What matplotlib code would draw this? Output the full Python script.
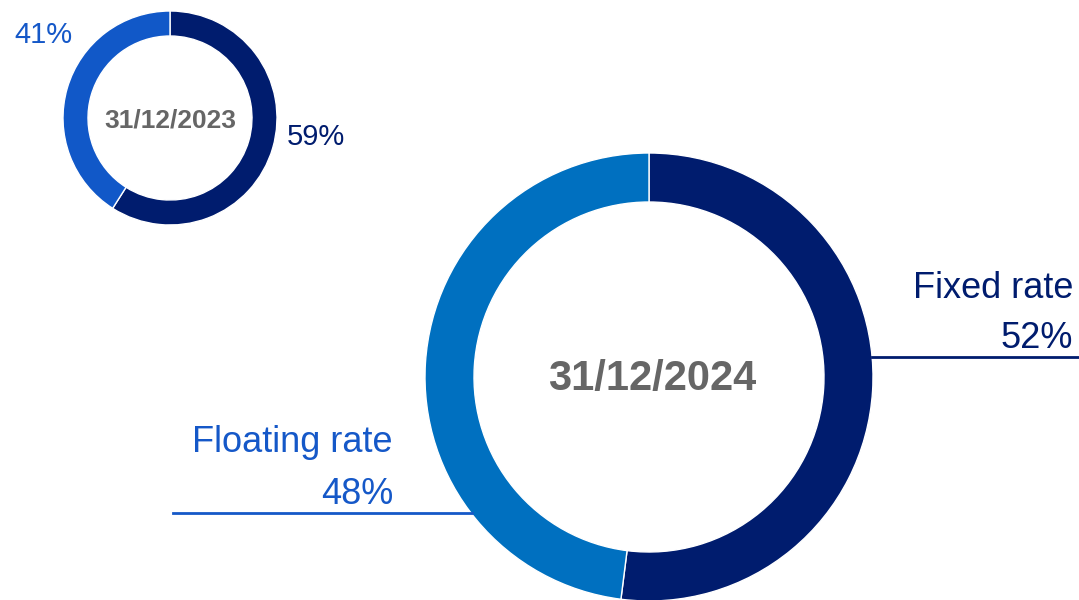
import matplotlib.pyplot as plt

plt.rcParams['font.family'] = ['Liberation Sans', 'DejaVu Sans']

categories = ['Fixed rate', 'Floating rate']
dates = ['31/12/2023', '31/12/2024']
share_2023 = [59, 41]
share_2024 = [52, 48]

navy = '#001C6E'
blue_2023 = '#1158C8'
blue_2024 = '#0070C0'
label_blue = '#1558C8'
grey = '#666666'

W, H = 1079, 600


def flip(y):
    # image pixel rows -> data y
    return H - y


fig = plt.figure(figsize=(W / 100, H / 100), dpi=100)
ax = fig.add_axes([0, 0, 1, 1])

# small donut, 2023
ax.pie(share_2023, colors=[navy, blue_2023], startangle=90, counterclock=False,
       center=(170, flip(118)), radius=107,
       wedgeprops=dict(width=25, edgecolor='white', linewidth=1))
ax.text(170, flip(121), dates[0], ha='center', va='center', fontsize=19,
        fontweight='bold', color=grey)
ax.text(287, flip(137), f'{share_2023[0]}%', ha='left', va='center',
        fontsize=21, color=navy)
ax.text(14, flip(35), f'{share_2023[1]}%', ha='left', va='center',
        fontsize=21, color=label_blue)

# large donut, 2024
ax.pie(share_2024, colors=[navy, blue_2024], startangle=90, counterclock=False,
       center=(649, flip(377)), radius=224,
       wedgeprops=dict(width=49, edgecolor='white', linewidth=1))
ax.text(652, flip(379), dates[1], ha='center', va='center', fontsize=30,
        fontweight='bold', color=grey)

# fixed rate callout
ax.plot([872, W], [flip(357), flip(357)], color=navy, lw=2)
ax.text(1073, flip(298), categories[0], ha='right', va='baseline',
        fontsize=26, color=navy)
ax.text(1073, flip(348), f'{share_2024[0]}%', ha='right', va='baseline',
        fontsize=26, color=navy)

# floating rate callout
ax.plot([173, 472], [flip(513), flip(513)], color=label_blue, lw=2)
ax.text(393, flip(452), categories[1], ha='right', va='baseline',
        fontsize=26, color=label_blue)
ax.text(393, flip(504), f'{share_2024[1]}%', ha='right', va='baseline',
        fontsize=26, color=label_blue)

ax.set_xlim(0, W)
ax.set_ylim(0, H)
ax.set_aspect('equal')
ax.axis('off')

fig.savefig('out.png', dpi=100, facecolor='white')
